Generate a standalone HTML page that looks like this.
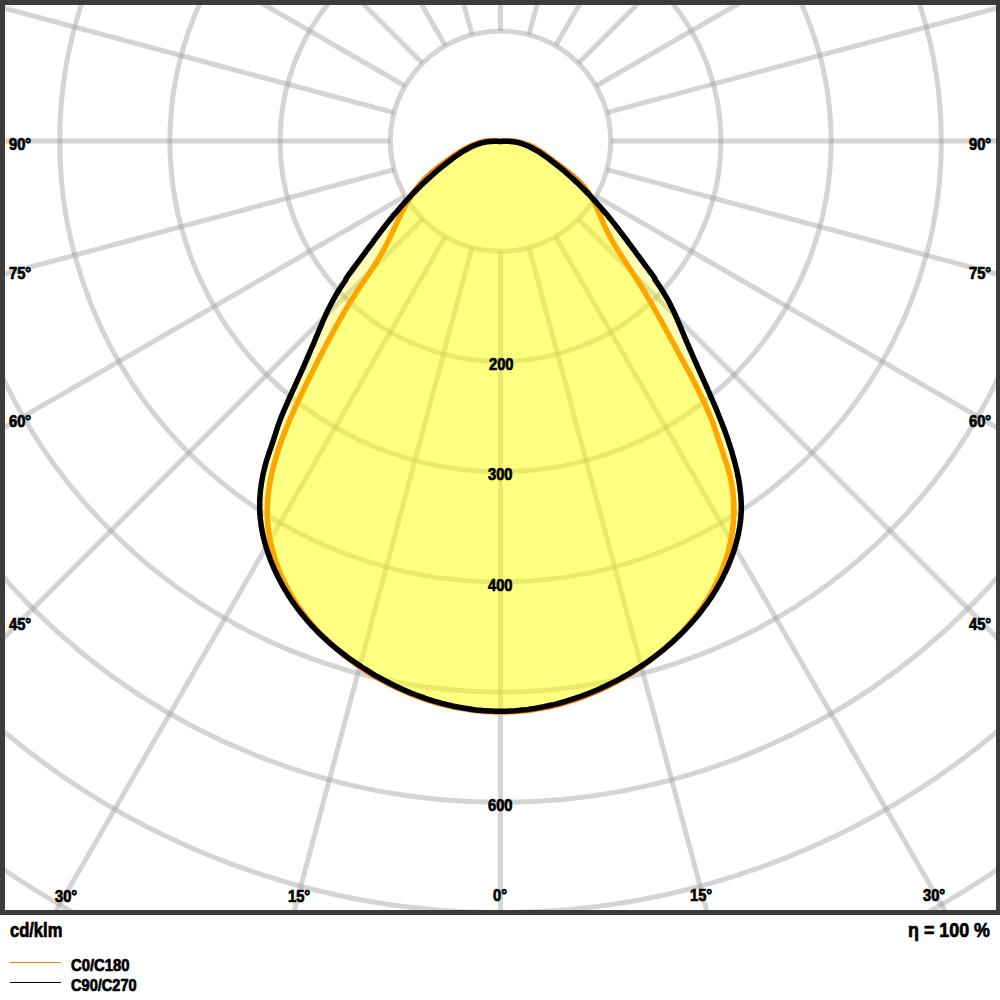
<!DOCTYPE html>
<html><head><meta charset="utf-8"><style>
html,body{margin:0;padding:0;background:#fff;}
body{width:1000px;height:1000px;position:relative;overflow:hidden;font-family:"Liberation Sans",sans-serif;}
svg{position:absolute;left:0;top:0;}
.t{position:absolute;font-weight:bold;font-size:14.5px;line-height:1;color:#000;white-space:nowrap;transform-origin:0 0;-webkit-text-stroke:0.7px #000;}
</style></head><body>
<svg width="1000" height="1000" viewBox="0 0 1000 1000">
<defs><clipPath id="c"><rect x="5" y="5" width="991" height="905"/></clipPath></defs>
<g clip-path="url(#c)">
<g fill="none" stroke="rgb(160,160,160)" stroke-opacity="0.45" stroke-width="5">
<circle cx="500.5" cy="141.1" r="110.20"/>
<circle cx="500.5" cy="141.1" r="220.40"/>
<circle cx="500.5" cy="141.1" r="330.60"/>
<circle cx="500.5" cy="141.1" r="440.80"/>
<circle cx="500.5" cy="141.1" r="551.00"/>
<circle cx="500.5" cy="141.1" r="661.20"/>
<circle cx="500.5" cy="141.1" r="771.40"/>
<circle cx="500.5" cy="141.1" r="881.60"/>
<line x1="500.5" y1="251.3" x2="500.5" y2="1341.1"/>
<line x1="529.0" y1="247.5" x2="811.1" y2="1300.2"/>
<line x1="555.6" y1="236.5" x2="1100.5" y2="1180.3"/>
<line x1="578.4" y1="219.0" x2="1349.0" y2="989.6"/>
<line x1="595.9" y1="196.2" x2="1539.7" y2="741.1"/>
<line x1="606.9" y1="169.6" x2="1659.6" y2="451.7"/>
<line x1="610.7" y1="141.1" x2="1700.5" y2="141.1"/>
<line x1="606.9" y1="112.6" x2="1659.6" y2="-169.5"/>
<line x1="595.9" y1="86.0" x2="1539.7" y2="-458.9"/>
<line x1="578.4" y1="63.2" x2="1349.0" y2="-707.4"/>
<line x1="555.6" y1="45.7" x2="1100.5" y2="-898.1"/>
<line x1="529.0" y1="34.7" x2="811.1" y2="-1018.0"/>
<line x1="500.5" y1="30.9" x2="500.5" y2="-1058.9"/>
<line x1="472.0" y1="34.7" x2="189.9" y2="-1018.0"/>
<line x1="445.4" y1="45.7" x2="-99.5" y2="-898.1"/>
<line x1="422.6" y1="63.2" x2="-348.0" y2="-707.4"/>
<line x1="405.1" y1="86.0" x2="-538.7" y2="-458.9"/>
<line x1="394.1" y1="112.6" x2="-658.6" y2="-169.5"/>
<line x1="390.3" y1="141.1" x2="-699.5" y2="141.1"/>
<line x1="394.1" y1="169.6" x2="-658.6" y2="451.7"/>
<line x1="405.1" y1="196.2" x2="-538.7" y2="741.1"/>
<line x1="422.6" y1="219.0" x2="-348.0" y2="989.6"/>
<line x1="445.4" y1="236.5" x2="-99.5" y2="1180.3"/>
<line x1="472.0" y1="247.5" x2="189.9" y2="1300.2"/>
</g>
<path d="M500.5 141.4L497.1 141.0L493.8 140.8L490.5 140.8L487.4 141.1L484.2 141.5L481.2 142.2L478.2 143.0L475.2 144.1L472.3 145.2L469.5 146.5L466.7 147.9L463.9 149.5L461.1 151.1L458.4 152.8L455.7 154.6L453.0 156.4L450.4 158.3L447.7 160.2L445.1 162.1L442.5 164.0L439.9 166.0L437.3 168.0L434.8 170.0L432.4 172.1L429.9 174.2L427.6 176.4L425.3 178.6L423.0 180.8L420.9 183.2L418.8 185.5L416.8 187.9L414.8 190.4L413.0 193.0L411.2 195.6L409.6 198.2L408.0 200.9L406.4 203.7L404.9 206.4L403.4 209.3L402.0 212.1L400.6 214.9L399.2 217.8L397.8 220.7L396.4 223.6L395.1 226.5L393.7 229.4L392.3 232.3L391.0 235.2L389.6 238.1L388.2 241.0L386.8 243.9L385.3 246.7L383.8 249.6L382.3 252.4L380.7 255.1L379.1 257.9L377.4 260.6L375.7 263.3L374.0 266.0L372.3 268.6L370.5 271.3L368.8 273.9L367.0 276.5L365.2 279.2L363.4 281.8L361.6 284.5L359.9 287.1L358.1 289.8L356.3 292.4L354.6 295.1L352.9 297.8L351.2 300.5L349.5 303.3L347.9 306.0L346.2 308.7L344.6 311.5L343.0 314.3L341.4 317.0L339.8 319.8L338.2 322.6L336.6 325.4L335.1 328.2L333.5 331.0L332.0 333.9L330.5 336.7L329.0 339.5L327.5 342.3L326.0 345.2L324.5 348.0L323.0 350.9L321.6 353.7L320.1 356.6L318.6 359.4L317.2 362.3L315.8 365.1L314.3 368.0L312.9 370.9L311.5 373.7L310.1 376.6L308.6 379.4L307.2 382.3L305.8 385.1L304.4 388.0L303.1 390.8L301.7 393.7L300.3 396.5L299.0 399.4L297.6 402.3L296.3 405.1L295.0 408.0L293.7 410.9L292.4 413.8L291.1 416.7L289.8 419.6L288.6 422.6L287.4 425.5L286.2 428.5L285.0 431.4L283.8 434.4L282.7 437.4L281.6 440.4L280.5 443.4L279.5 446.5L278.4 449.5L277.4 452.6L276.5 455.7L275.6 458.8L274.7 461.8L273.8 464.9L273.0 468.1L272.3 471.2L271.6 474.3L270.9 477.4L270.3 480.6L269.7 483.7L269.2 486.9L268.8 490.0L268.4 493.2L268.0 496.4L267.7 499.5L267.5 502.7L267.4 505.9L267.3 509.1L267.3 512.2L267.3 515.4L267.4 518.6L267.6 521.8L267.9 524.9L268.2 528.1L268.6 531.2L269.1 534.4L269.6 537.6L270.2 540.7L270.9 543.8L271.6 546.9L272.4 550.0L273.3 553.1L274.2 556.2L275.1 559.3L276.1 562.3L277.2 565.3L278.3 568.3L279.5 571.3L280.7 574.2L282.0 577.2L283.4 580.1L284.7 583.0L286.2 585.8L287.6 588.6L289.2 591.4L290.7 594.2L292.3 596.9L294.0 599.7L295.7 602.3L297.4 605.0L299.2 607.6L301.0 610.2L302.9 612.8L304.8 615.3L306.7 617.8L308.7 620.3L310.7 622.8L312.8 625.2L314.9 627.6L317.0 630.0L319.2 632.3L321.4 634.6L323.6 636.9L325.9 639.1L328.2 641.3L330.5 643.5L332.9 645.7L335.3 647.8L337.7 649.9L340.1 652.0L342.6 654.0L345.1 656.0L347.6 658.0L350.2 659.9L352.8 661.8L355.4 663.7L358.0 665.5L360.7 667.3L363.4 669.1L366.1 670.9L368.8 672.6L371.5 674.3L374.3 675.9L377.1 677.6L379.9 679.1L382.7 680.7L385.5 682.2L388.4 683.7L391.2 685.2L394.1 686.6L397.0 688.0L400.0 689.3L402.9 690.6L405.8 691.9L408.8 693.1L411.8 694.4L414.8 695.5L417.8 696.7L420.8 697.7L423.8 698.8L426.9 699.8L429.9 700.8L433.0 701.7L436.1 702.6L439.1 703.5L442.2 704.3L445.3 705.1L448.4 705.8L451.6 706.6L454.7 707.2L457.8 707.8L460.9 708.4L464.1 708.9L467.2 709.4L470.4 709.9L473.6 710.3L476.7 710.7L479.9 711.0L483.0 711.2L486.2 711.5L489.4 711.7L492.6 711.8L495.7 711.9L498.9 711.9L502.1 712.0L505.3 711.9L508.4 711.8L511.6 711.7L514.8 711.5L518.0 711.3L521.1 711.0L524.3 710.7L527.5 710.4L530.6 710.0L533.8 709.5L536.9 709.0L540.1 708.5L543.2 707.9L546.3 707.3L549.4 706.7L552.6 706.0L555.7 705.2L558.8 704.5L561.9 703.6L564.9 702.8L568.0 701.9L571.1 700.9L574.1 700.0L577.2 699.0L580.2 697.9L583.2 696.8L586.2 695.7L589.2 694.5L592.2 693.3L595.1 692.1L598.1 690.8L601.0 689.5L603.9 688.1L606.8 686.7L609.7 685.3L612.6 683.8L615.4 682.3L618.3 680.8L621.1 679.3L623.9 677.7L626.7 676.0L629.4 674.4L632.1 672.7L634.9 670.9L637.6 669.2L640.2 667.4L642.9 665.5L645.5 663.7L648.1 661.8L650.7 659.9L653.2 657.9L655.8 655.9L658.3 653.9L660.8 651.9L663.2 649.8L665.6 647.7L668.0 645.6L670.4 643.4L672.7 641.2L675.1 639.0L677.3 636.7L679.6 634.5L681.8 632.1L684.0 629.8L686.1 627.4L688.2 625.1L690.3 622.6L692.3 620.2L694.3 617.7L696.3 615.2L698.2 612.7L700.0 610.1L701.9 607.5L703.7 604.9L705.4 602.2L707.1 599.6L708.8 596.9L710.4 594.1L712.0 591.4L713.5 588.6L714.9 585.8L716.4 583.0L717.7 580.1L719.1 577.2L720.3 574.3L721.6 571.4L722.7 568.4L723.8 565.4L724.9 562.4L725.9 559.4L726.8 556.3L727.7 553.3L728.6 550.2L729.3 547.1L730.0 543.9L730.7 540.8L731.3 537.6L731.8 534.5L732.3 531.3L732.7 528.1L733.1 524.9L733.4 521.7L733.6 518.6L733.7 515.4L733.8 512.2L733.8 509.0L733.8 505.8L733.7 502.6L733.5 499.4L733.3 496.2L733.0 493.0L732.6 489.8L732.1 486.7L731.6 483.5L731.0 480.4L730.3 477.3L729.5 474.1L728.7 471.1L727.8 468.0L726.9 464.9L725.9 461.9L724.9 458.8L723.9 455.8L722.9 452.7L721.9 449.7L720.9 446.7L719.9 443.6L718.9 440.6L717.9 437.6L716.9 434.6L715.9 431.6L714.9 428.6L713.8 425.6L712.7 422.6L711.5 419.6L710.4 416.7L709.2 413.7L707.9 410.8L706.7 407.9L705.4 405.0L704.0 402.1L702.7 399.2L701.3 396.3L699.9 393.5L698.5 390.6L697.1 387.7L695.7 384.9L694.2 382.0L692.7 379.2L691.2 376.3L689.8 373.5L688.2 370.7L686.7 367.9L685.2 365.0L683.7 362.2L682.1 359.4L680.6 356.6L679.1 353.8L677.5 351.0L676.0 348.1L674.5 345.3L673.0 342.5L671.4 339.7L669.9 336.9L668.4 334.1L666.9 331.3L665.3 328.5L663.8 325.7L662.3 322.9L660.7 320.1L659.2 317.3L657.6 314.5L656.0 311.7L654.5 309.0L652.9 306.2L651.3 303.4L649.7 300.7L648.1 297.9L646.5 295.2L644.9 292.4L643.2 289.7L641.6 287.0L639.9 284.3L638.2 281.6L636.5 278.9L634.8 276.2L633.0 273.5L631.3 270.8L629.5 268.2L627.8 265.5L626.0 262.8L624.2 260.2L622.5 257.5L620.8 254.8L619.0 252.1L617.4 249.4L615.7 246.7L614.0 243.9L612.4 241.2L610.9 238.4L609.4 235.6L607.9 232.8L606.5 229.9L605.1 227.0L603.8 224.1L602.5 221.2L601.2 218.2L600.0 215.2L598.7 212.3L597.4 209.4L596.1 206.5L594.8 203.6L593.3 200.8L591.8 198.0L590.2 195.3L588.5 192.7L586.6 190.1L584.7 187.7L582.6 185.3L580.4 183.0L578.1 180.7L575.8 178.5L573.4 176.4L570.9 174.3L568.4 172.3L565.8 170.2L563.2 168.3L560.6 166.3L558.0 164.3L555.4 162.4L552.8 160.5L550.3 158.5L547.7 156.6L545.2 154.7L542.6 152.8L540.0 151.0L537.3 149.3L534.6 147.8L531.8 146.4L528.9 145.1L525.9 144.0L522.9 143.0L519.8 142.2L516.6 141.6L513.5 141.2L510.3 140.9L507.0 140.9L503.8 141.0L500.5 141.4Z" fill="#ffff00" fill-opacity="0.29" stroke="none"/>
<path d="M500.5 141.4L497.1 141.0L493.8 140.8L490.5 140.8L487.4 141.1L484.2 141.5L481.2 142.2L478.2 143.0L475.2 144.1L472.3 145.2L469.5 146.5L466.7 147.9L463.9 149.5L461.1 151.1L458.4 152.8L455.7 154.6L453.0 156.4L450.4 158.3L447.7 160.2L445.1 162.1L442.5 164.0L439.9 166.0L437.3 168.0L434.8 170.0L432.4 172.1L429.9 174.2L427.6 176.4L425.3 178.6L423.0 180.8L420.9 183.2L418.8 185.5L416.8 187.9L414.8 190.4L413.0 193.0L411.2 195.6L409.6 198.2L408.0 200.9L406.4 203.7L404.9 206.4L403.4 209.3L402.0 212.1L400.6 214.9L399.2 217.8L397.8 220.7L396.4 223.6L395.1 226.5L393.7 229.4L392.3 232.3L391.0 235.2L389.6 238.1L388.2 241.0L386.8 243.9L385.3 246.7L383.8 249.6L382.3 252.4L380.7 255.1L379.1 257.9L377.4 260.6L375.7 263.3L374.0 266.0L372.3 268.6L370.5 271.3L368.8 273.9L367.0 276.5L365.2 279.2L363.4 281.8L361.6 284.5L359.9 287.1L358.1 289.8L356.3 292.4L354.6 295.1L352.9 297.8L351.2 300.5L349.5 303.3L347.9 306.0L346.2 308.7L344.6 311.5L343.0 314.3L341.4 317.0L339.8 319.8L338.2 322.6L336.6 325.4L335.1 328.2L333.5 331.0L332.0 333.9L330.5 336.7L329.0 339.5L327.5 342.3L326.0 345.2L324.5 348.0L323.0 350.9L321.6 353.7L320.1 356.6L318.6 359.4L317.2 362.3L315.8 365.1L314.3 368.0L312.9 370.9L311.5 373.7L310.1 376.6L308.6 379.4L307.2 382.3L305.8 385.1L304.4 388.0L303.1 390.8L301.7 393.7L300.3 396.5L299.0 399.4L297.6 402.3L296.3 405.1L295.0 408.0L293.7 410.9L292.4 413.8L291.1 416.7L289.8 419.6L288.6 422.6L287.4 425.5L286.2 428.5L285.0 431.4L283.8 434.4L282.7 437.4L281.6 440.4L280.5 443.4L279.5 446.5L278.4 449.5L277.4 452.6L276.5 455.7L275.6 458.8L274.7 461.8L273.8 464.9L273.0 468.1L272.3 471.2L271.6 474.3L270.9 477.4L270.3 480.6L269.7 483.7L269.2 486.9L268.8 490.0L268.4 493.2L268.0 496.4L267.7 499.5L267.5 502.7L267.4 505.9L267.3 509.1L267.3 512.2L267.3 515.4L267.4 518.6L267.6 521.8L267.9 524.9L268.2 528.1L268.6 531.2L269.1 534.4L269.6 537.6L270.2 540.7L270.9 543.8L271.6 546.9L272.4 550.0L273.3 553.1L274.2 556.2L275.1 559.3L276.1 562.3L277.2 565.3L278.3 568.3L279.5 571.3L280.7 574.2L282.0 577.2L283.4 580.1L284.7 583.0L286.2 585.8L287.6 588.6L289.2 591.4L290.7 594.2L292.3 596.9L294.0 599.7L295.7 602.3L297.4 605.0L299.2 607.6L301.0 610.2L302.9 612.8L304.8 615.3L306.7 617.8L308.7 620.3L310.7 622.8L312.8 625.2L314.9 627.6L317.0 630.0L319.2 632.3L321.4 634.6L323.6 636.9L325.9 639.1L328.2 641.3L330.5 643.5L332.9 645.7L335.3 647.8L337.7 649.9L340.1 652.0L342.6 654.0L345.1 656.0L347.6 658.0L350.2 659.9L352.8 661.8L355.4 663.7L358.0 665.5L360.7 667.3L363.4 669.1L366.1 670.9L368.8 672.6L371.5 674.3L374.3 675.9L377.1 677.6L379.9 679.1L382.7 680.7L385.5 682.2L388.4 683.7L391.2 685.2L394.1 686.6L397.0 688.0L400.0 689.3L402.9 690.6L405.8 691.9L408.8 693.1L411.8 694.4L414.8 695.5L417.8 696.7L420.8 697.7L423.8 698.8L426.9 699.8L429.9 700.8L433.0 701.7L436.1 702.6L439.1 703.5L442.2 704.3L445.3 705.1L448.4 705.8L451.6 706.6L454.7 707.2L457.8 707.8L460.9 708.4L464.1 708.9L467.2 709.4L470.4 709.9L473.6 710.3L476.7 710.7L479.9 711.0L483.0 711.2L486.2 711.5L489.4 711.7L492.6 711.8L495.7 711.9L498.9 711.9L502.1 712.0L505.3 711.9L508.4 711.8L511.6 711.7L514.8 711.5L518.0 711.3L521.1 711.0L524.3 710.7L527.5 710.4L530.6 710.0L533.8 709.5L536.9 709.0L540.1 708.5L543.2 707.9L546.3 707.3L549.4 706.7L552.6 706.0L555.7 705.2L558.8 704.5L561.9 703.6L564.9 702.8L568.0 701.9L571.1 700.9L574.1 700.0L577.2 699.0L580.2 697.9L583.2 696.8L586.2 695.7L589.2 694.5L592.2 693.3L595.1 692.1L598.1 690.8L601.0 689.5L603.9 688.1L606.8 686.7L609.7 685.3L612.6 683.8L615.4 682.3L618.3 680.8L621.1 679.3L623.9 677.7L626.7 676.0L629.4 674.4L632.1 672.7L634.9 670.9L637.6 669.2L640.2 667.4L642.9 665.5L645.5 663.7L648.1 661.8L650.7 659.9L653.2 657.9L655.8 655.9L658.3 653.9L660.8 651.9L663.2 649.8L665.6 647.7L668.0 645.6L670.4 643.4L672.7 641.2L675.1 639.0L677.3 636.7L679.6 634.5L681.8 632.1L684.0 629.8L686.1 627.4L688.2 625.1L690.3 622.6L692.3 620.2L694.3 617.7L696.3 615.2L698.2 612.7L700.0 610.1L701.9 607.5L703.7 604.9L705.4 602.2L707.1 599.6L708.8 596.9L710.4 594.1L712.0 591.4L713.5 588.6L714.9 585.8L716.4 583.0L717.7 580.1L719.1 577.2L720.3 574.3L721.6 571.4L722.7 568.4L723.8 565.4L724.9 562.4L725.9 559.4L726.8 556.3L727.7 553.3L728.6 550.2L729.3 547.1L730.0 543.9L730.7 540.8L731.3 537.6L731.8 534.5L732.3 531.3L732.7 528.1L733.1 524.9L733.4 521.7L733.6 518.6L733.7 515.4L733.8 512.2L733.8 509.0L733.8 505.8L733.7 502.6L733.5 499.4L733.3 496.2L733.0 493.0L732.6 489.8L732.1 486.7L731.6 483.5L731.0 480.4L730.3 477.3L729.5 474.1L728.7 471.1L727.8 468.0L726.9 464.9L725.9 461.9L724.9 458.8L723.9 455.8L722.9 452.7L721.9 449.7L720.9 446.7L719.9 443.6L718.9 440.6L717.9 437.6L716.9 434.6L715.9 431.6L714.9 428.6L713.8 425.6L712.7 422.6L711.5 419.6L710.4 416.7L709.2 413.7L707.9 410.8L706.7 407.9L705.4 405.0L704.0 402.1L702.7 399.2L701.3 396.3L699.9 393.5L698.5 390.6L697.1 387.7L695.7 384.9L694.2 382.0L692.7 379.2L691.2 376.3L689.8 373.5L688.2 370.7L686.7 367.9L685.2 365.0L683.7 362.2L682.1 359.4L680.6 356.6L679.1 353.8L677.5 351.0L676.0 348.1L674.5 345.3L673.0 342.5L671.4 339.7L669.9 336.9L668.4 334.1L666.9 331.3L665.3 328.5L663.8 325.7L662.3 322.9L660.7 320.1L659.2 317.3L657.6 314.5L656.0 311.7L654.5 309.0L652.9 306.2L651.3 303.4L649.7 300.7L648.1 297.9L646.5 295.2L644.9 292.4L643.2 289.7L641.6 287.0L639.9 284.3L638.2 281.6L636.5 278.9L634.8 276.2L633.0 273.5L631.3 270.8L629.5 268.2L627.8 265.5L626.0 262.8L624.2 260.2L622.5 257.5L620.8 254.8L619.0 252.1L617.4 249.4L615.7 246.7L614.0 243.9L612.4 241.2L610.9 238.4L609.4 235.6L607.9 232.8L606.5 229.9L605.1 227.0L603.8 224.1L602.5 221.2L601.2 218.2L600.0 215.2L598.7 212.3L597.4 209.4L596.1 206.5L594.8 203.6L593.3 200.8L591.8 198.0L590.2 195.3L588.5 192.7L586.6 190.1L584.7 187.7L582.6 185.3L580.4 183.0L578.1 180.7L575.8 178.5L573.4 176.4L570.9 174.3L568.4 172.3L565.8 170.2L563.2 168.3L560.6 166.3L558.0 164.3L555.4 162.4L552.8 160.5L550.3 158.5L547.7 156.6L545.2 154.7L542.6 152.8L540.0 151.0L537.3 149.3L534.6 147.8L531.8 146.4L528.9 145.1L525.9 144.0L522.9 143.0L519.8 142.2L516.6 141.6L513.5 141.2L510.3 140.9L507.0 140.9L503.8 141.0L500.5 141.4Z" fill="none" stroke="#ff8000" stroke-width="5.5" stroke-linejoin="round"/>
<path d="M500.5 141.4L497.1 141.2L493.7 141.2L490.4 141.4L487.2 141.8L484.0 142.4L480.9 143.2L477.8 144.2L474.9 145.3L471.9 146.6L469.0 148.0L466.2 149.6L463.4 151.2L460.6 152.9L457.9 154.7L455.2 156.6L452.6 158.5L450.0 160.5L447.4 162.5L444.8 164.5L442.2 166.6L439.7 168.6L437.2 170.7L434.7 172.9L432.3 175.0L429.9 177.2L427.4 179.4L425.1 181.6L422.7 183.8L420.4 186.1L418.1 188.4L415.8 190.7L413.5 193.0L411.2 195.4L409.0 197.8L406.8 200.1L404.6 202.6L402.5 205.0L400.3 207.4L398.2 209.9L396.1 212.4L394.0 214.8L392.0 217.3L389.9 219.9L387.9 222.4L385.9 224.9L383.9 227.5L381.9 230.1L380.0 232.6L378.0 235.2L376.1 237.8L374.1 240.4L372.2 243.1L370.2 245.7L368.3 248.3L366.3 250.9L364.4 253.6L362.4 256.2L360.5 258.9L358.5 261.5L356.6 264.2L354.6 266.8L352.6 269.5L350.7 272.1L348.8 274.7L347.0 277.2L346.0 278.7L346.2 278.7L346.2 279.1L345.2 280.7L343.5 283.2L341.5 286.1L339.5 289.2L337.6 292.3L335.8 295.3L334.1 298.3L332.5 301.3L330.9 304.3L329.4 307.2L327.9 310.2L326.5 313.1L325.2 316.1L323.9 319.0L322.6 321.9L321.4 324.9L320.1 327.8L318.9 330.7L317.7 333.7L316.4 336.6L315.2 339.6L314.0 342.6L312.7 345.6L311.4 348.5L310.1 351.5L308.8 354.6L307.5 357.6L306.2 360.6L304.9 363.6L303.6 366.6L302.3 369.6L300.9 372.6L299.6 375.6L298.2 378.6L296.9 381.6L295.5 384.6L294.2 387.6L292.8 390.6L291.5 393.5L290.1 396.5L288.8 399.4L287.5 402.4L286.2 405.3L284.9 408.3L283.6 411.3L282.4 414.3L281.2 417.3L280.0 420.3L278.9 423.4L277.8 426.4L276.8 429.5L275.8 432.7L274.8 435.8L273.8 438.9L272.8 442.0L271.7 445.1L270.7 448.2L269.6 451.2L268.6 454.3L267.6 457.4L266.6 460.5L265.7 463.6L264.9 466.7L264.1 469.9L263.3 473.1L262.7 476.3L262.1 479.5L261.5 482.7L261.1 486.0L260.6 489.2L260.3 492.5L260.0 495.7L259.8 499.0L259.7 502.3L259.7 505.5L259.7 508.8L259.8 512.0L260.0 515.3L260.3 518.5L260.7 521.7L261.1 524.9L261.6 528.1L262.2 531.3L262.8 534.5L263.6 537.7L264.3 540.8L265.2 544.0L266.1 547.1L267.1 550.2L268.1 553.3L269.2 556.3L270.3 559.4L271.5 562.4L272.8 565.4L274.0 568.4L275.4 571.4L276.8 574.3L278.2 577.2L279.7 580.1L281.2 583.0L282.8 585.8L284.4 588.7L286.1 591.4L287.8 594.2L289.5 597.0L291.3 599.7L293.1 602.4L295.0 605.0L296.9 607.6L298.9 610.2L300.8 612.8L302.9 615.3L304.9 617.8L307.0 620.3L309.2 622.8L311.3 625.2L313.6 627.5L315.8 629.9L318.1 632.2L320.4 634.5L322.8 636.7L325.2 638.9L327.6 641.1L330.0 643.3L332.5 645.4L335.0 647.5L337.6 649.5L340.1 651.5L342.7 653.5L345.3 655.5L347.9 657.5L350.6 659.4L353.2 661.2L355.9 663.1L358.6 664.9L361.3 666.7L364.1 668.5L366.8 670.2L369.6 671.9L372.3 673.6L375.1 675.3L377.9 676.9L380.8 678.5L383.6 680.0L386.5 681.5L389.4 683.0L392.3 684.5L395.2 685.9L398.1 687.3L401.1 688.7L404.0 690.0L407.0 691.3L410.0 692.6L413.0 693.8L416.1 695.0L419.1 696.1L422.2 697.2L425.3 698.3L428.4 699.3L431.5 700.3L434.6 701.3L437.8 702.2L440.9 703.1L444.1 703.9L447.3 704.7L450.4 705.4L453.6 706.2L456.8 706.8L460.0 707.4L463.3 708.0L466.5 708.5L469.7 709.0L472.9 709.5L476.2 709.9L479.4 710.2L482.7 710.5L485.9 710.7L489.1 710.9L492.4 711.1L495.6 711.2L498.9 711.2L502.1 711.2L505.4 711.2L508.6 711.1L511.9 710.9L515.1 710.7L518.3 710.4L521.6 710.1L524.8 709.8L528.0 709.4L531.2 708.9L534.4 708.5L537.7 707.9L540.9 707.3L544.0 706.7L547.2 706.0L550.4 705.3L553.6 704.6L556.7 703.8L559.9 703.0L563.0 702.1L566.2 701.2L569.3 700.2L572.4 699.2L575.5 698.2L578.6 697.1L581.7 696.0L584.7 694.9L587.8 693.7L590.8 692.5L593.8 691.3L596.9 690.0L599.8 688.7L602.8 687.3L605.8 686.0L608.7 684.5L611.7 683.1L614.6 681.6L617.5 680.1L620.4 678.6L623.2 677.0L626.1 675.4L628.9 673.8L631.7 672.1L634.5 670.4L637.2 668.7L640.0 666.9L642.7 665.1L645.4 663.3L648.1 661.4L650.7 659.5L653.3 657.6L655.9 655.6L658.5 653.6L661.0 651.6L663.6 649.6L666.1 647.5L668.5 645.4L671.0 643.2L673.4 641.1L675.8 638.9L678.1 636.6L680.5 634.4L682.8 632.1L685.0 629.8L687.3 627.4L689.5 625.0L691.6 622.6L693.8 620.2L695.9 617.7L698.0 615.2L700.0 612.7L702.0 610.1L703.9 607.5L705.9 604.9L707.8 602.3L709.6 599.6L711.4 596.9L713.2 594.2L714.9 591.4L716.6 588.7L718.2 585.9L719.8 583.0L721.3 580.2L722.8 577.3L724.2 574.4L725.6 571.5L727.0 568.5L728.3 565.5L729.5 562.5L730.7 559.5L731.9 556.4L733.0 553.4L734.0 550.3L735.0 547.1L735.9 544.0L736.7 540.8L737.5 537.7L738.3 534.5L738.9 531.3L739.5 528.0L740.0 524.8L740.4 521.6L740.8 518.4L741.0 515.1L741.2 511.9L741.3 508.7L741.3 505.4L741.2 502.2L741.0 499.0L740.8 495.7L740.5 492.5L740.1 489.3L739.7 486.1L739.2 482.8L738.7 479.6L738.0 476.4L737.4 473.2L736.7 470.1L735.9 466.9L735.1 463.7L734.3 460.6L733.4 457.4L732.5 454.3L731.6 451.1L730.6 448.0L729.6 444.9L728.6 441.8L727.6 438.7L726.5 435.6L725.4 432.6L724.3 429.5L723.1 426.5L722.0 423.4L720.8 420.4L719.6 417.4L718.4 414.4L717.2 411.4L715.9 408.4L714.7 405.4L713.4 402.5L712.1 399.5L710.8 396.5L709.5 393.5L708.2 390.5L706.9 387.6L705.6 384.6L704.2 381.6L702.9 378.6L701.5 375.6L700.2 372.6L698.9 369.6L697.5 366.6L696.2 363.5L694.8 360.5L693.5 357.5L692.2 354.5L690.9 351.5L689.6 348.6L688.3 345.6L687.0 342.6L685.7 339.6L684.5 336.7L683.3 333.7L682.0 330.8L680.8 327.8L679.6 324.9L678.3 322.0L677.1 319.0L675.8 316.1L674.5 313.1L673.1 310.2L671.6 307.2L670.2 304.3L668.6 301.3L667.0 298.3L665.2 295.3L663.4 292.2L661.5 289.2L659.5 286.1L657.5 283.2L655.8 280.7L654.7 279.1L654.7 278.7L655.0 278.7L654.0 277.1L652.2 274.7L650.3 272.1L648.4 269.5L646.4 266.8L644.4 264.2L642.5 261.5L640.5 258.9L638.6 256.2L636.6 253.6L634.7 250.9L632.7 248.3L630.8 245.7L628.8 243.1L626.9 240.4L624.9 237.8L623.0 235.2L621.0 232.6L619.1 230.1L617.1 227.5L615.1 224.9L613.1 222.4L611.1 219.9L609.0 217.3L607.0 214.8L604.9 212.4L602.8 209.9L600.7 207.4L598.5 205.0L596.4 202.6L594.2 200.1L592.0 197.8L589.8 195.4L587.5 193.0L585.2 190.7L582.9 188.4L580.6 186.1L578.3 183.8L575.9 181.6L573.6 179.4L571.1 177.2L568.7 175.0L566.3 172.9L563.8 170.7L561.3 168.6L558.8 166.6L556.2 164.5L553.6 162.5L551.0 160.5L548.4 158.5L545.8 156.6L543.1 154.7L540.4 152.9L537.6 151.2L534.8 149.6L532.0 148.0L529.1 146.6L526.1 145.3L523.2 144.2L520.1 143.2L517.0 142.4L513.8 141.8L510.6 141.4L507.3 141.2L503.9 141.2L500.5 141.4Z" fill="#ffff00" fill-opacity="0.29" stroke="none"/>
<path d="M500.5 141.4L497.1 141.2L493.7 141.2L490.4 141.4L487.2 141.8L484.0 142.4L480.9 143.2L477.8 144.2L474.9 145.3L471.9 146.6L469.0 148.0L466.2 149.6L463.4 151.2L460.6 152.9L457.9 154.7L455.2 156.6L452.6 158.5L450.0 160.5L447.4 162.5L444.8 164.5L442.2 166.6L439.7 168.6L437.2 170.7L434.7 172.9L432.3 175.0L429.9 177.2L427.4 179.4L425.1 181.6L422.7 183.8L420.4 186.1L418.1 188.4L415.8 190.7L413.5 193.0L411.2 195.4L409.0 197.8L406.8 200.1L404.6 202.6L402.5 205.0L400.3 207.4L398.2 209.9L396.1 212.4L394.0 214.8L392.0 217.3L389.9 219.9L387.9 222.4L385.9 224.9L383.9 227.5L381.9 230.1L380.0 232.6L378.0 235.2L376.1 237.8L374.1 240.4L372.2 243.1L370.2 245.7L368.3 248.3L366.3 250.9L364.4 253.6L362.4 256.2L360.5 258.9L358.5 261.5L356.6 264.2L354.6 266.8L352.6 269.5L350.7 272.1L348.8 274.7L347.0 277.2L346.0 278.7L346.2 278.7L346.2 279.1L345.2 280.7L343.5 283.2L341.5 286.1L339.5 289.2L337.6 292.3L335.8 295.3L334.1 298.3L332.5 301.3L330.9 304.3L329.4 307.2L327.9 310.2L326.5 313.1L325.2 316.1L323.9 319.0L322.6 321.9L321.4 324.9L320.1 327.8L318.9 330.7L317.7 333.7L316.4 336.6L315.2 339.6L314.0 342.6L312.7 345.6L311.4 348.5L310.1 351.5L308.8 354.6L307.5 357.6L306.2 360.6L304.9 363.6L303.6 366.6L302.3 369.6L300.9 372.6L299.6 375.6L298.2 378.6L296.9 381.6L295.5 384.6L294.2 387.6L292.8 390.6L291.5 393.5L290.1 396.5L288.8 399.4L287.5 402.4L286.2 405.3L284.9 408.3L283.6 411.3L282.4 414.3L281.2 417.3L280.0 420.3L278.9 423.4L277.8 426.4L276.8 429.5L275.8 432.7L274.8 435.8L273.8 438.9L272.8 442.0L271.7 445.1L270.7 448.2L269.6 451.2L268.6 454.3L267.6 457.4L266.6 460.5L265.7 463.6L264.9 466.7L264.1 469.9L263.3 473.1L262.7 476.3L262.1 479.5L261.5 482.7L261.1 486.0L260.6 489.2L260.3 492.5L260.0 495.7L259.8 499.0L259.7 502.3L259.7 505.5L259.7 508.8L259.8 512.0L260.0 515.3L260.3 518.5L260.7 521.7L261.1 524.9L261.6 528.1L262.2 531.3L262.8 534.5L263.6 537.7L264.3 540.8L265.2 544.0L266.1 547.1L267.1 550.2L268.1 553.3L269.2 556.3L270.3 559.4L271.5 562.4L272.8 565.4L274.0 568.4L275.4 571.4L276.8 574.3L278.2 577.2L279.7 580.1L281.2 583.0L282.8 585.8L284.4 588.7L286.1 591.4L287.8 594.2L289.5 597.0L291.3 599.7L293.1 602.4L295.0 605.0L296.9 607.6L298.9 610.2L300.8 612.8L302.9 615.3L304.9 617.8L307.0 620.3L309.2 622.8L311.3 625.2L313.6 627.5L315.8 629.9L318.1 632.2L320.4 634.5L322.8 636.7L325.2 638.9L327.6 641.1L330.0 643.3L332.5 645.4L335.0 647.5L337.6 649.5L340.1 651.5L342.7 653.5L345.3 655.5L347.9 657.5L350.6 659.4L353.2 661.2L355.9 663.1L358.6 664.9L361.3 666.7L364.1 668.5L366.8 670.2L369.6 671.9L372.3 673.6L375.1 675.3L377.9 676.9L380.8 678.5L383.6 680.0L386.5 681.5L389.4 683.0L392.3 684.5L395.2 685.9L398.1 687.3L401.1 688.7L404.0 690.0L407.0 691.3L410.0 692.6L413.0 693.8L416.1 695.0L419.1 696.1L422.2 697.2L425.3 698.3L428.4 699.3L431.5 700.3L434.6 701.3L437.8 702.2L440.9 703.1L444.1 703.9L447.3 704.7L450.4 705.4L453.6 706.2L456.8 706.8L460.0 707.4L463.3 708.0L466.5 708.5L469.7 709.0L472.9 709.5L476.2 709.9L479.4 710.2L482.7 710.5L485.9 710.7L489.1 710.9L492.4 711.1L495.6 711.2L498.9 711.2L502.1 711.2L505.4 711.2L508.6 711.1L511.9 710.9L515.1 710.7L518.3 710.4L521.6 710.1L524.8 709.8L528.0 709.4L531.2 708.9L534.4 708.5L537.7 707.9L540.9 707.3L544.0 706.7L547.2 706.0L550.4 705.3L553.6 704.6L556.7 703.8L559.9 703.0L563.0 702.1L566.2 701.2L569.3 700.2L572.4 699.2L575.5 698.2L578.6 697.1L581.7 696.0L584.7 694.9L587.8 693.7L590.8 692.5L593.8 691.3L596.9 690.0L599.8 688.7L602.8 687.3L605.8 686.0L608.7 684.5L611.7 683.1L614.6 681.6L617.5 680.1L620.4 678.6L623.2 677.0L626.1 675.4L628.9 673.8L631.7 672.1L634.5 670.4L637.2 668.7L640.0 666.9L642.7 665.1L645.4 663.3L648.1 661.4L650.7 659.5L653.3 657.6L655.9 655.6L658.5 653.6L661.0 651.6L663.6 649.6L666.1 647.5L668.5 645.4L671.0 643.2L673.4 641.1L675.8 638.9L678.1 636.6L680.5 634.4L682.8 632.1L685.0 629.8L687.3 627.4L689.5 625.0L691.6 622.6L693.8 620.2L695.9 617.7L698.0 615.2L700.0 612.7L702.0 610.1L703.9 607.5L705.9 604.9L707.8 602.3L709.6 599.6L711.4 596.9L713.2 594.2L714.9 591.4L716.6 588.7L718.2 585.9L719.8 583.0L721.3 580.2L722.8 577.3L724.2 574.4L725.6 571.5L727.0 568.5L728.3 565.5L729.5 562.5L730.7 559.5L731.9 556.4L733.0 553.4L734.0 550.3L735.0 547.1L735.9 544.0L736.7 540.8L737.5 537.7L738.3 534.5L738.9 531.3L739.5 528.0L740.0 524.8L740.4 521.6L740.8 518.4L741.0 515.1L741.2 511.9L741.3 508.7L741.3 505.4L741.2 502.2L741.0 499.0L740.8 495.7L740.5 492.5L740.1 489.3L739.7 486.1L739.2 482.8L738.7 479.6L738.0 476.4L737.4 473.2L736.7 470.1L735.9 466.9L735.1 463.7L734.3 460.6L733.4 457.4L732.5 454.3L731.6 451.1L730.6 448.0L729.6 444.9L728.6 441.8L727.6 438.7L726.5 435.6L725.4 432.6L724.3 429.5L723.1 426.5L722.0 423.4L720.8 420.4L719.6 417.4L718.4 414.4L717.2 411.4L715.9 408.4L714.7 405.4L713.4 402.5L712.1 399.5L710.8 396.5L709.5 393.5L708.2 390.5L706.9 387.6L705.6 384.6L704.2 381.6L702.9 378.6L701.5 375.6L700.2 372.6L698.9 369.6L697.5 366.6L696.2 363.5L694.8 360.5L693.5 357.5L692.2 354.5L690.9 351.5L689.6 348.6L688.3 345.6L687.0 342.6L685.7 339.6L684.5 336.7L683.3 333.7L682.0 330.8L680.8 327.8L679.6 324.9L678.3 322.0L677.1 319.0L675.8 316.1L674.5 313.1L673.1 310.2L671.6 307.2L670.2 304.3L668.6 301.3L667.0 298.3L665.2 295.3L663.4 292.2L661.5 289.2L659.5 286.1L657.5 283.2L655.8 280.7L654.7 279.1L654.7 278.7L655.0 278.7L654.0 277.1L652.2 274.7L650.3 272.1L648.4 269.5L646.4 266.8L644.4 264.2L642.5 261.5L640.5 258.9L638.6 256.2L636.6 253.6L634.7 250.9L632.7 248.3L630.8 245.7L628.8 243.1L626.9 240.4L624.9 237.8L623.0 235.2L621.0 232.6L619.1 230.1L617.1 227.5L615.1 224.9L613.1 222.4L611.1 219.9L609.0 217.3L607.0 214.8L604.9 212.4L602.8 209.9L600.7 207.4L598.5 205.0L596.4 202.6L594.2 200.1L592.0 197.8L589.8 195.4L587.5 193.0L585.2 190.7L582.9 188.4L580.6 186.1L578.3 183.8L575.9 181.6L573.6 179.4L571.1 177.2L568.7 175.0L566.3 172.9L563.8 170.7L561.3 168.6L558.8 166.6L556.2 164.5L553.6 162.5L551.0 160.5L548.4 158.5L545.8 156.6L543.1 154.7L540.4 152.9L537.6 151.2L534.8 149.6L532.0 148.0L529.1 146.6L526.1 145.3L523.2 144.2L520.1 143.2L517.0 142.4L513.8 141.8L510.6 141.4L507.3 141.2L503.9 141.2L500.5 141.4Z" fill="none" stroke="#000" stroke-width="5.5" stroke-linejoin="round"/>
</g>
<rect x="2.5" y="2.5" width="996" height="910" fill="none" stroke="#3c3c3c" stroke-width="5"/>
<line x1="10" y1="962.5" x2="61" y2="962.5" stroke="#ff8000" stroke-width="1"/>
<line x1="10" y1="982.5" x2="61" y2="982.5" stroke="#000" stroke-width="1"/>
</svg>
<div class="t" style="left:9.10px;top:136.50px;font-size:15.80px;transform:scaleX(0.930)">90°</div>
<div class="t" style="left:9.10px;top:265.60px;font-size:15.80px;transform:scaleX(0.930)">75°</div>
<div class="t" style="left:9.10px;top:413.60px;font-size:15.80px;transform:scaleX(0.930)">60°</div>
<div class="t" style="left:9.10px;top:616.50px;font-size:15.80px;transform:scaleX(0.930)">45°</div>
<div class="t" style="left:969.00px;top:136.50px;font-size:15.80px;transform:scaleX(0.930)">90°</div>
<div class="t" style="left:969.00px;top:265.90px;font-size:15.80px;transform:scaleX(0.930)">75°</div>
<div class="t" style="left:969.40px;top:414.00px;font-size:15.80px;transform:scaleX(0.930)">60°</div>
<div class="t" style="left:969.40px;top:616.70px;font-size:15.80px;transform:scaleX(0.930)">45°</div>
<div class="t" style="left:55.20px;top:888.90px;font-size:15.80px;transform:scaleX(0.930)">30°</div>
<div class="t" style="left:287.80px;top:888.90px;font-size:15.80px;transform:scaleX(0.930)">15°</div>
<div class="t" style="left:493.10px;top:887.60px;font-size:15.80px;transform:scaleX(0.930)">0°</div>
<div class="t" style="left:689.70px;top:887.60px;font-size:15.80px;transform:scaleX(0.930)">15°</div>
<div class="t" style="left:923.10px;top:887.60px;font-size:15.80px;transform:scaleX(0.930)">30°</div>
<div class="t" style="left:488.98px;top:357.35px;font-size:15.80px;transform:scaleX(0.930)">200</div>
<div class="t" style="left:488.12px;top:467.22px;font-size:15.80px;transform:scaleX(0.930)">300</div>
<div class="t" style="left:488.10px;top:578.35px;font-size:15.80px;transform:scaleX(0.930)">400</div>
<div class="t" style="left:488.48px;top:797.70px;font-size:15.80px;transform:scaleX(0.930)">600</div>
<div class="t" style="left:10.00px;top:920.90px;font-size:19.80px;transform:scaleX(0.835)">cd/klm</div>
<div class="t" style="left:70.78px;top:958.40px;font-size:15.60px;transform:scaleX(0.950)">C0/C180</div>
<div class="t" style="left:70.75px;top:977.70px;font-size:15.60px;transform:scaleX(0.935)">C90/C270</div>
<div class="t" style="left:908.00px;top:919.90px;font-size:20.80px;transform:scaleX(0.860)">η = 100 %</div>
</body></html>
